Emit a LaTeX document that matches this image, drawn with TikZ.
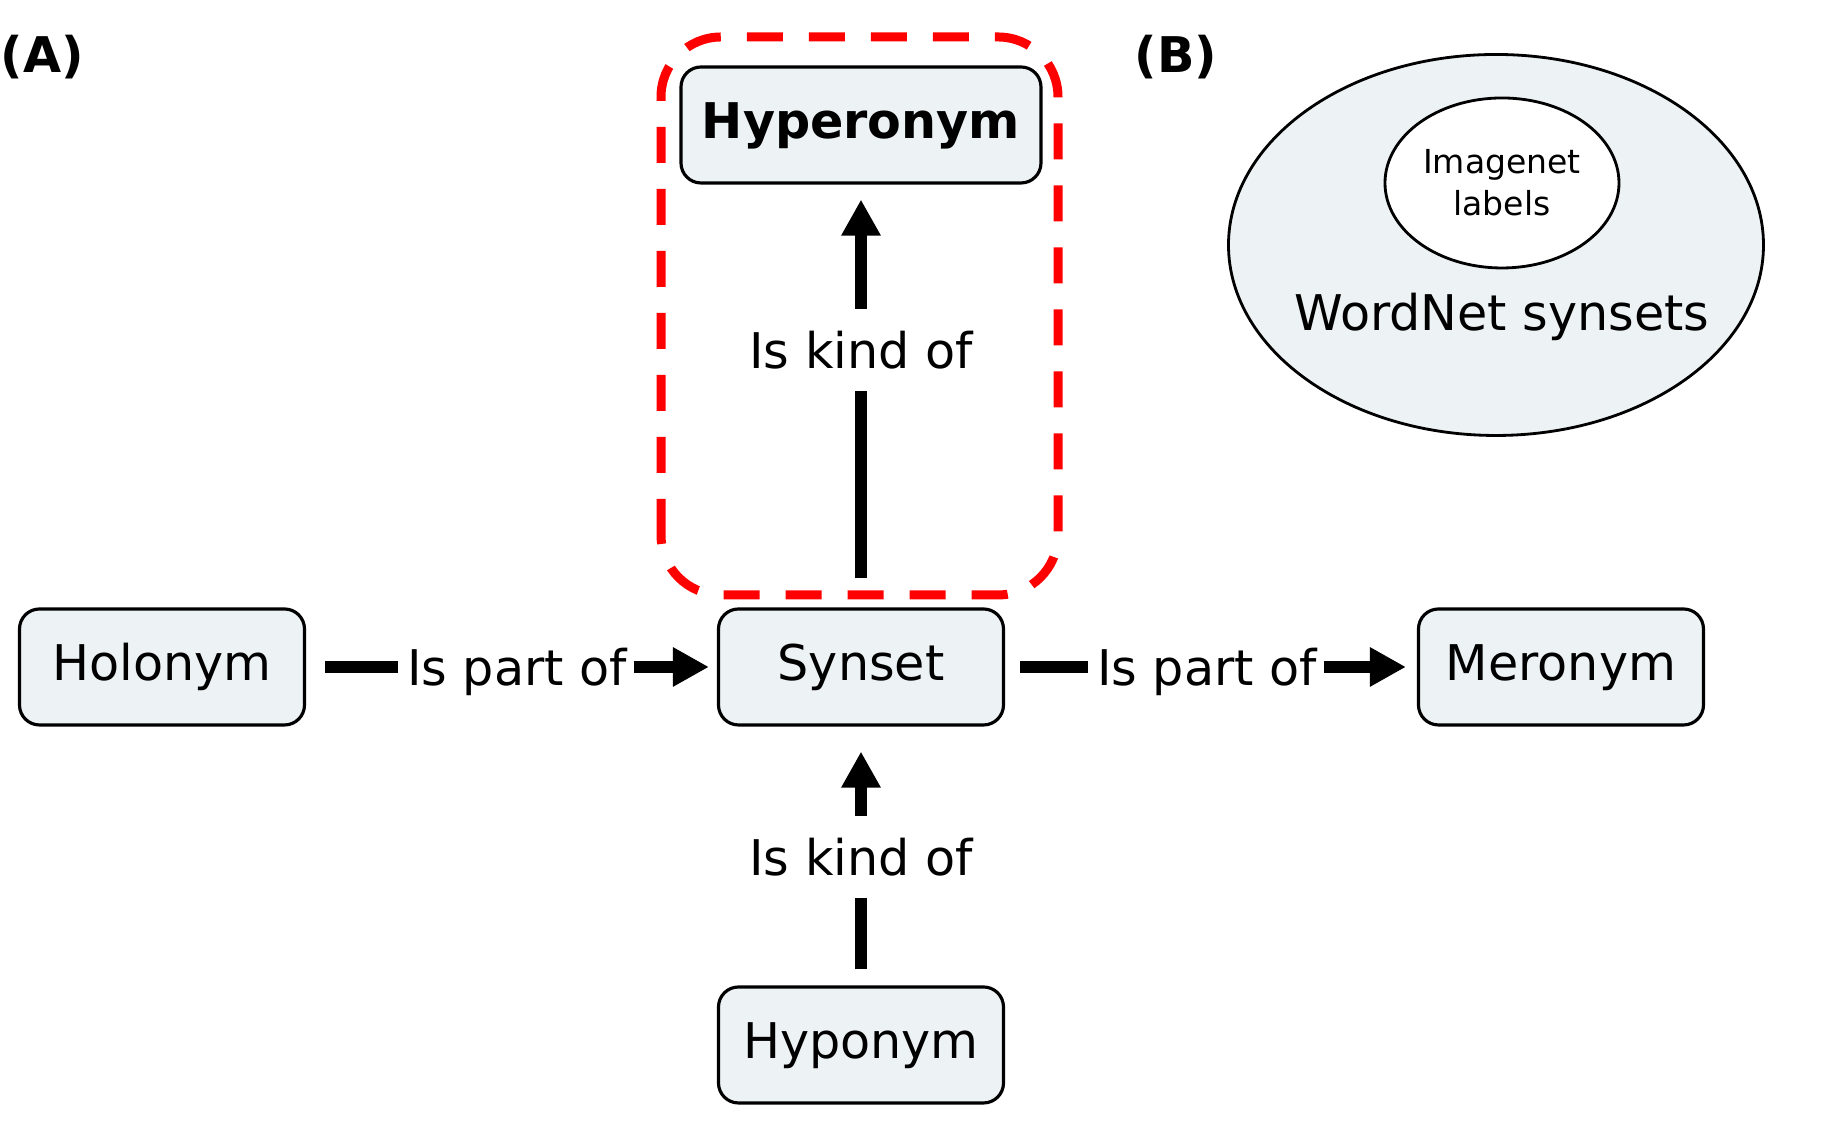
\documentclass[tikz,border=0pt]{standalone}
\usepackage{fontspec}
\setmainfont{DejaVu Sans}
\usetikzlibrary{arrows.meta,shapes.geometric}
\definecolor{boxfill}{RGB}{237,242,245}
\definecolor{focusred}{RGB}{255,0,0}

\begin{document}
\begin{tikzpicture}[
    box/.style={draw, line width=0.9pt, fill=boxfill, rounded corners=0.2cm, minimum width=2.85cm, minimum height=1.16cm, inner sep=0, text height=0.75em, text depth=0pt, font=\fontsize{14}{17}\selectfont},
    rel/.style={font=\fontsize{14}{17}\selectfont, inner xsep=0.06cm, inner ysep=0.22cm, text depth=0pt},
    link/.style={line width=0.125cm},
    linkarr/.style={link, -{Triangle[length=0.36cm, width=0.37cm]}},
    panel/.style={font=\fontsize{14}{17}\selectfont\bfseries, inner sep=0, anchor=west},
    focus/.style={draw=focusred, line width=0.09cm, dash pattern=on 0.36cm off 0.26cm, rounded corners=0.6cm}
]
\useasboundingbox (0,0) rectangle (18.23,11.24);

% (A) word relations
\node[panel] (tagA) at (0,10.67) {(A)};

\draw[focus] (6.61,5.29) rectangle (10.58,10.87);

\node[box] (holonym) at (1.62,4.57) {Holonym};
\node[box] (synset) at (8.61,4.57) {Synset};
\node[box] (meronym) at (15.61,4.57) {Meronym};
\node[box] (hyponym) at (8.61,0.79) {Hyponym};
\node[box, minimum width=3.6cm, font=\fontsize{14}{17}\selectfont\bfseries] (hyperonym) at (8.61,9.99) {Hyperonym};

\node[rel] (partL) at (5.17,4.57) {Is part of};
\node[rel] (partR) at (12.07,4.57) {Is part of};
\node[rel] (kindLow) at (8.61,2.67) {Is kind of};
\node[rel] (kindUp) at (8.61,7.74) {Is kind of};

\draw[link, shorten <=0.19cm, shorten >=0.02cm] (holonym) -- (partL);
\draw[linkarr, shorten >=0.08cm] (partL) -- (synset);
\draw[link, shorten <=0.15cm, shorten >=0.02cm] (synset) -- (partR);
\draw[linkarr, shorten >=0.11cm] (partR) -- (meronym);
\draw[link, shorten <=0.16cm] (hyponym) -- (kindLow);
\draw[linkarr, shorten >=0.25cm] (kindLow) -- (synset);
\draw[link, shorten <=0.29cm] (synset) -- (kindUp);
\draw[linkarr, shorten >=0.15cm] (kindUp) -- (hyperonym);

% (B) label sets
\node[panel] (tagB) at (11.34,10.67) {(B)};
\node[ellipse, draw, line width=0.8pt, fill=boxfill, minimum width=5.35cm, minimum height=3.81cm, inner sep=0] (wordnet) at (14.96,8.79) {};
\node[ellipse, draw, line width=0.8pt, fill=white, minimum width=2.34cm, minimum height=1.70cm, inner sep=0, align=center, font=\fontsize{9.4}{12}\selectfont] (imagenet) at (15.02,9.41) {Imagenet\\labels};
\node[font=\fontsize{14}{17}\selectfont] (wordnetlbl) at (15.02,8.07) {WordNet synsets};
\end{tikzpicture}
\end{document}
